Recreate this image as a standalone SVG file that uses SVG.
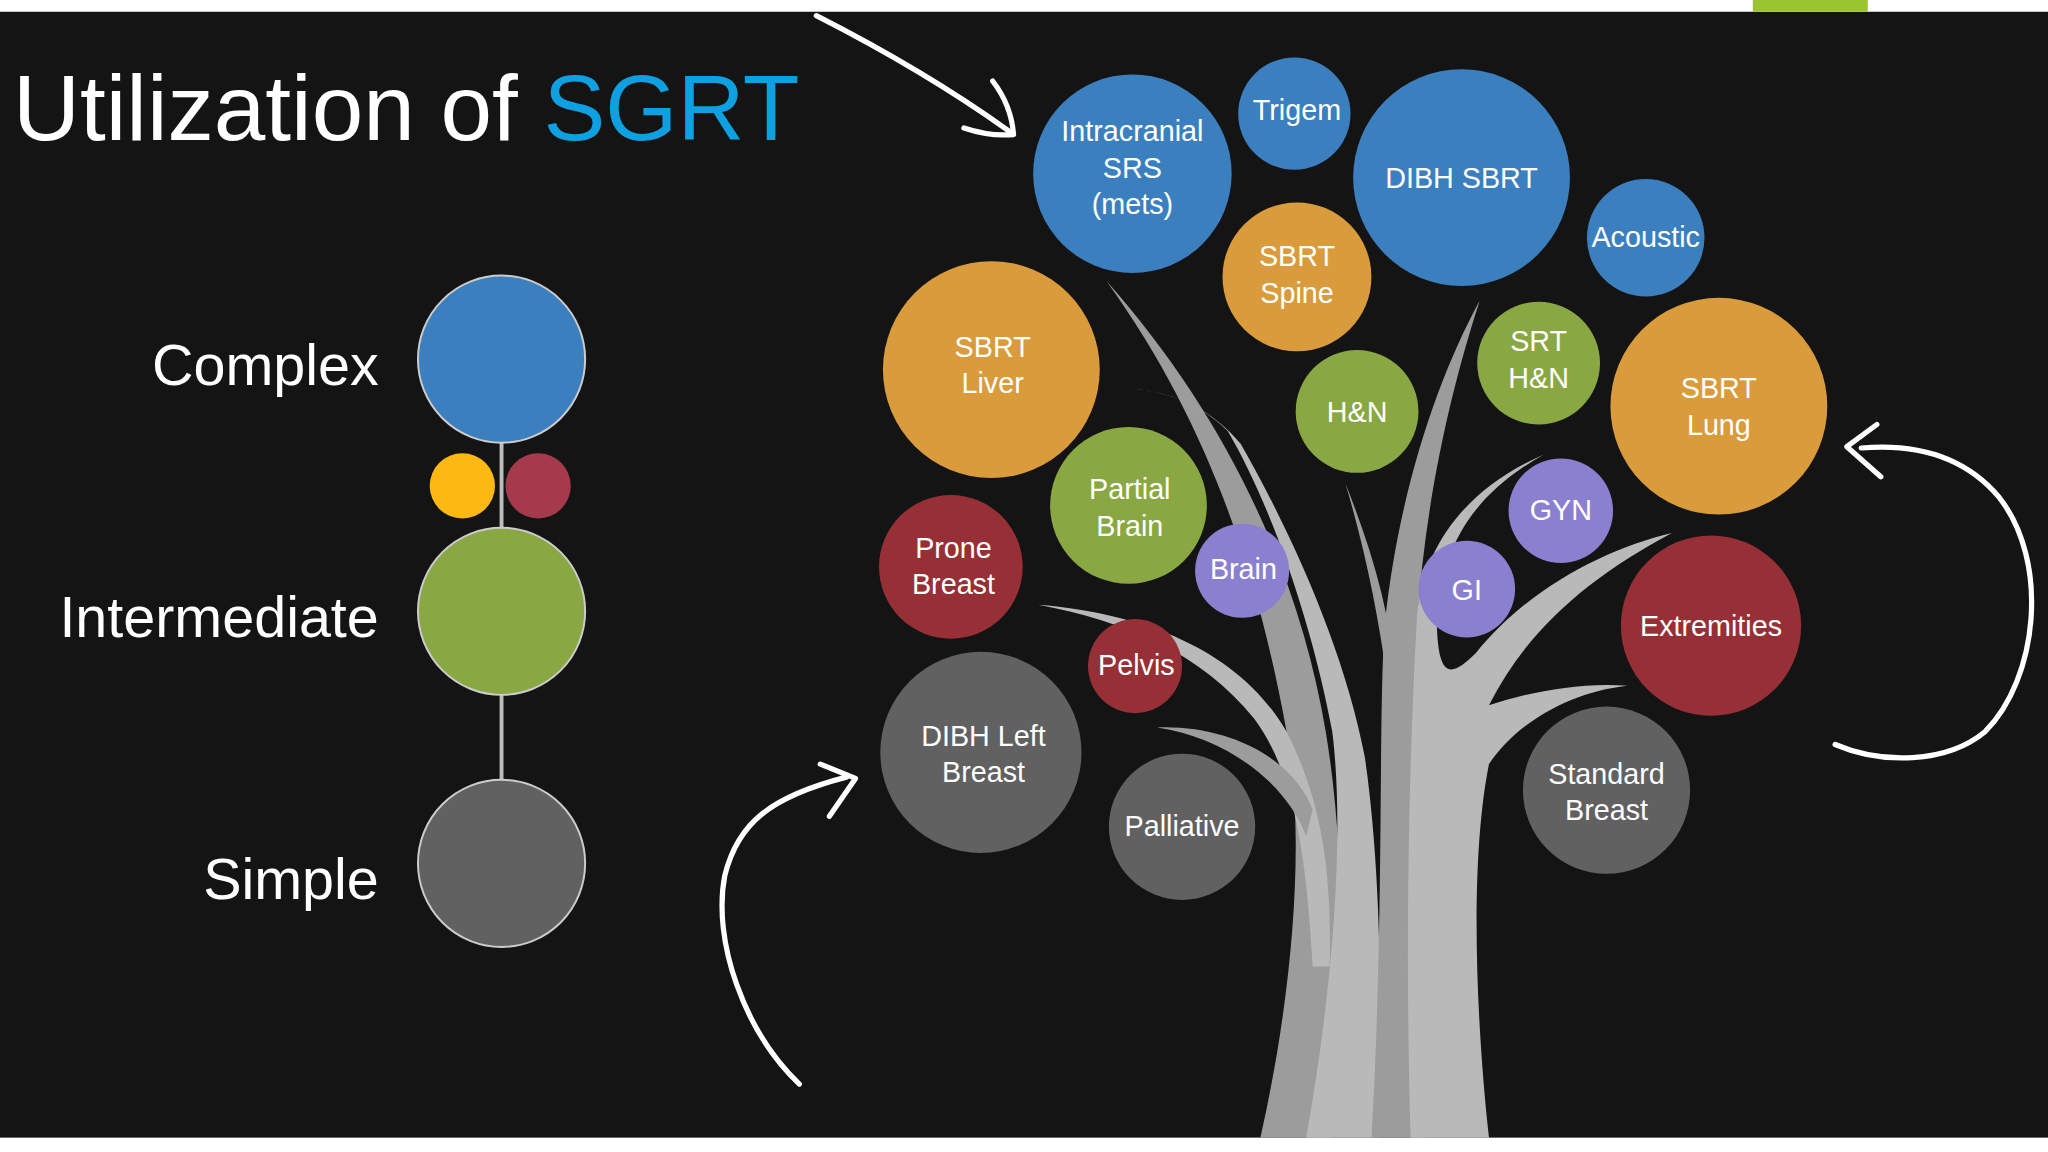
<svg xmlns="http://www.w3.org/2000/svg" width="2048" height="1152" viewBox="0 0 2048 1152">
<style>
.t{font-family:"Liberation Sans",Arial,sans-serif;fill:#fff;font-size:22px;text-anchor:middle}
.lbl{font-family:"Liberation Sans",Arial,sans-serif;fill:#fff;font-size:44px;text-anchor:end}
.blue{fill:#3b7fbf}.orange{fill:#d99b3c}.green{fill:#89a843}.purple{fill:#8b80d0}.red{fill:#963036}.gray{fill:#616161}
.arr{fill:none;stroke:#fff;stroke-width:4;stroke-linecap:round;stroke-linejoin:round}
.br{fill:#b9b9b9}.br2{fill:#9c9c9c}
</style>
<rect width="2048" height="1152" fill="#fff"/>
<g transform="scale(1.30612)">
<rect x="0" y="9" width="1568" height="862" fill="#141414"/>
<rect x="1342" y="0" width="88" height="9" fill="#9ac531"/>
<text x="10" y="107" font-family="Liberation Sans,Arial,sans-serif" font-size="71" fill="#fff" textLength="602">Utilization of <tspan fill="#0ea0e0">SGRT</tspan></text>
<g id="scale">
<line x1="384" y1="275" x2="384" y2="661" stroke="#bdbdbd" stroke-width="3"/>
<circle cx="384" cy="275" r="64" class="blue" stroke="#ccc" stroke-width="1.5"/>
<circle cx="384" cy="468" r="64" class="green" stroke="#ccc" stroke-width="1.5"/>
<circle cx="384" cy="661" r="64" class="gray" stroke="#ccc" stroke-width="1.5"/>
<circle cx="354" cy="372" r="25" fill="#fdb813"/>
<circle cx="412" cy="372" r="25" fill="#a53a4c"/>
<text x="290" y="295" class="lbl">Complex</text>
<text x="290" y="488" class="lbl">Intermediate</text>
<text x="290" y="688" class="lbl">Simple</text>
</g>
<g id="tree">
<path class="br2" d="M965 871 C990 760 1000 640 985 560 C965 450 930 330 847 215 C940 320 995 440 1015 560 C1030 650 1030 760 1020 871 Z"/>
<path class="br" d="M1000 871 C1020 760 1030 640 1020 560 C1005 480 975 390 940 330 C920 310 895 300 868 298 C900 300 930 315 950 340 C990 410 1030 500 1045 580 C1058 670 1058 780 1055 871 Z"/>
<path class="br2" d="M1050 871 C1060 700 1055 560 1060 480 C1070 380 1100 290 1133 230 C1110 300 1090 390 1085 480 C1080 580 1090 720 1095 871 Z"/>
<path class="br" d="M1080 871 C1075 700 1080 560 1085 470 C1090 420 1120 375 1182 348 C1125 380 1105 420 1100 470 C1100 520 1110 520 1130 500 C1170 450 1230 420 1280 408 C1220 440 1170 480 1140 540 C1170 530 1210 522 1246 525 C1200 530 1160 555 1140 585 C1125 660 1130 780 1140 871 Z"/>
<path class="br2" d="M1030 370 C1050 420 1065 470 1068 520 L1062 520 C1055 470 1045 420 1030 370 Z"/>
<path class="br" d="M795 463 C880 470 950 500 985 560 C1010 610 1020 660 1018 740 L1005 740 C1000 650 990 590 960 550 C920 500 860 475 795 463 Z"/>
<path class="br2" d="M886 557 C940 555 990 580 1005 620 L1000 640 C985 600 940 565 886 557 Z"/>
</g>
<g id="connectors">
<path class="arr" d="M625 12 C680 40 730 70 772 100 M760 62 C770 75 775 90 776 103 C765 104 750 102 738 98"/>
<path class="arr" d="M1405 570 C1440 585 1490 585 1520 560 C1560 520 1570 430 1530 380 C1500 345 1460 340 1425 343 M1437 325 L1414 342 L1440 365"/>
<path class="arr" d="M612 830 C570 790 545 720 555 670 C565 630 590 610 648 595 M628 585 L655 596 L635 625"/>
</g>
<g id="n1"><circle cx="867" cy="133" r="76" class="blue"/><text class="t" x="867" y="108">Intracranial</text><text class="t" x="867" y="136">SRS</text><text class="t" x="867" y="164">(mets)</text></g>
<g id="n2"><circle cx="991" cy="87" r="43" class="blue"/><text class="t" x="993" y="92">Trigem</text></g>
<g id="n3"><circle cx="1119" cy="136" r="83" class="blue"/><text class="t" x="1119" y="144">DIBH SBRT</text></g>
<g id="n4"><circle cx="1260" cy="182" r="45" class="blue"/><text class="t" x="1260" y="189">Acoustic</text></g>
<g id="n5"><circle cx="993" cy="212" r="57" class="orange"/><text class="t" x="993" y="204">SBRT</text><text class="t" x="993" y="232">Spine</text></g>
<g id="n6"><circle cx="759" cy="283" r="83" class="orange"/><text class="t" x="760" y="273">SBRT</text><text class="t" x="760" y="301">Liver</text></g>
<g id="n7"><circle cx="1039" cy="315" r="47" class="green"/><text class="t" x="1039" y="323">H&amp;N</text></g>
<g id="n8"><circle cx="1178" cy="278" r="47" class="green"/><text class="t" x="1178" y="269">SRT</text><text class="t" x="1178" y="297">H&amp;N</text></g>
<g id="n9"><circle cx="1316" cy="311" r="83" class="orange"/><text class="t" x="1316" y="305">SBRT</text><text class="t" x="1316" y="333">Lung</text></g>
<g id="n10"><circle cx="864" cy="387" r="60" class="green"/><text class="t" x="865" y="382">Partial</text><text class="t" x="865" y="410">Brain</text></g>
<g id="n11"><circle cx="728" cy="434" r="55" class="red"/><text class="t" x="730" y="427">Prone</text><text class="t" x="730" y="455">Breast</text></g>
<g id="n12"><circle cx="951" cy="437" r="36" class="purple"/><text class="t" x="952" y="443">Brain</text></g>
<g id="n13"><circle cx="1195" cy="391" r="40" class="purple"/><text class="t" x="1195" y="398">GYN</text></g>
<g id="n14"><circle cx="1123" cy="451" r="37" class="purple"/><text class="t" x="1123" y="459">GI</text></g>
<g id="n15"><circle cx="1310" cy="479" r="69" class="red"/><text class="t" x="1310" y="487">Extremities</text></g>
<g id="n16"><circle cx="869" cy="510" r="36" class="red"/><text class="t" x="870" y="517">Pelvis</text></g>
<g id="n17"><circle cx="751" cy="576" r="77" class="gray"/><text class="t" x="753" y="571">DIBH Left</text><text class="t" x="753" y="599">Breast</text></g>
<g id="n18"><circle cx="905" cy="633" r="56" class="gray"/><text class="t" x="905" y="640">Palliative</text></g>
<g id="n19"><circle cx="1230" cy="605" r="64" class="gray"/><text class="t" x="1230" y="600">Standard</text><text class="t" x="1230" y="628">Breast</text></g>
</g>
</svg>
